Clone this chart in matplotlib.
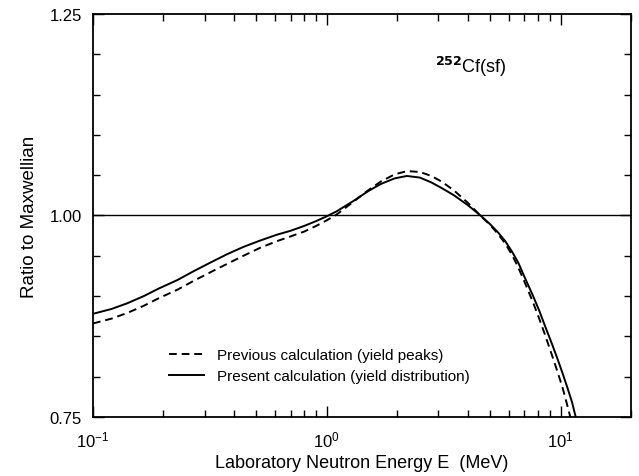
import numpy as np
import matplotlib.pyplot as plt
from matplotlib.ticker import LogLocator, MultipleLocator, FixedLocator

plt.rcParams['font.family'] = ['Liberation Sans', 'DejaVu Sans']

# present calculation (yield distribution) - solid
e_present = [0.1, 0.12, 0.14, 0.165, 0.19, 0.23, 0.27, 0.32, 0.375, 0.44, 0.52, 0.61, 0.70, 0.80,
             0.90, 1.0, 1.1, 1.3, 1.5, 1.7, 1.95, 2.2, 2.5, 2.8, 3.1, 3.5, 4.0, 4.5, 5.0, 5.4,
             5.8, 6.2, 6.6, 7.0, 7.6, 8.1, 8.6, 9.2, 9.7, 10.2, 10.7, 11.2, 11.6]
r_present = [0.878, 0.884, 0.891, 0.900, 0.909, 0.920, 0.931, 0.942, 0.952, 0.961, 0.969, 0.976,
             0.981, 0.987, 0.993, 0.999, 1.005, 1.018, 1.030, 1.039, 1.046, 1.049, 1.047, 1.041,
             1.034, 1.025, 1.013, 1.001, 0.989, 0.979, 0.968, 0.955, 0.941, 0.924, 0.901, 0.882,
             0.862, 0.840, 0.822, 0.804, 0.786, 0.768, 0.750]

# previous calculation (yield peaks) - dashed
e_previous = [0.1, 0.12, 0.14, 0.165, 0.19, 0.23, 0.27, 0.32, 0.375, 0.44, 0.52, 0.61, 0.70, 0.80,
              0.90, 1.0, 1.1, 1.3, 1.5, 1.7, 1.95, 2.2, 2.5, 2.8, 3.1, 3.5, 4.0, 4.5, 5.0, 5.4,
              5.8, 6.2, 6.6, 7.0, 7.6, 8.1, 8.6, 9.2, 9.7, 10.2, 10.6, 11.0]
r_previous = [0.866, 0.872, 0.879, 0.888, 0.897, 0.908, 0.919, 0.930, 0.940, 0.950, 0.960, 0.968,
              0.974, 0.980, 0.987, 0.994, 1.001, 1.017, 1.031, 1.042, 1.051, 1.055, 1.054, 1.049,
              1.042, 1.031, 1.016, 1.001, 0.988, 0.977, 0.965, 0.951, 0.935, 0.918, 0.893, 0.872,
              0.851, 0.826, 0.806, 0.786, 0.768, 0.750]

fig = plt.figure(figsize=(6.39, 4.77), dpi=100)
ax = fig.add_axes([0.1455, 0.1237, 0.842, 0.845])

ax.axhline(1.0, color='black', lw=1.0)
ax.plot(e_previous, r_previous, color='black', lw=1.4, ls=(0, (4, 2.5)),
        label='Previous calculation (yield peaks)')
ax.plot(e_present, r_present, color='black', lw=1.4, ls='-',
        label='Present calculation (yield distribution)')

ax.set_xscale('log')
ax.set_xlim(0.1, 20)
ax.set_ylim(0.75, 1.25)

ax.yaxis.set_major_locator(FixedLocator([0.75, 1.0, 1.25]))
ax.yaxis.set_minor_locator(MultipleLocator(0.05))
ax.set_yticklabels(['0.75', '1.00', '1.25'])
ax.xaxis.set_major_locator(LogLocator(base=10))
ax.xaxis.set_minor_locator(LogLocator(base=10, subs=np.arange(2, 10)))

ax.tick_params(which='both', direction='in', top=True, right=True, labelsize=12)
ax.tick_params(which='major', length=8, width=1)
ax.tick_params(which='minor', length=5, width=1)
ax.tick_params(axis='x', pad=9)
ax.tick_params(axis='y', pad=8)
for s in ax.spines.values():
    s.set_linewidth(1.3)

ax.set_xlabel('Laboratory Neutron Energy E  (MeV)', fontsize=13, labelpad=3)
ax.set_ylabel('Ratio to Maxwellian', fontsize=13.5, labelpad=8)

ax.text(0.636, 0.871, r'$^{\mathbf{252}}$Cf(sf)', transform=ax.transAxes, fontsize=13,
        va='center', ha='left')

ax.legend(loc='upper left', bbox_to_anchor=(0.115, 0.205), frameon=False, fontsize=11,
          handlelength=2.3, handletextpad=0.9, labelspacing=0.45)

fig.savefig('out.png', dpi=100)
